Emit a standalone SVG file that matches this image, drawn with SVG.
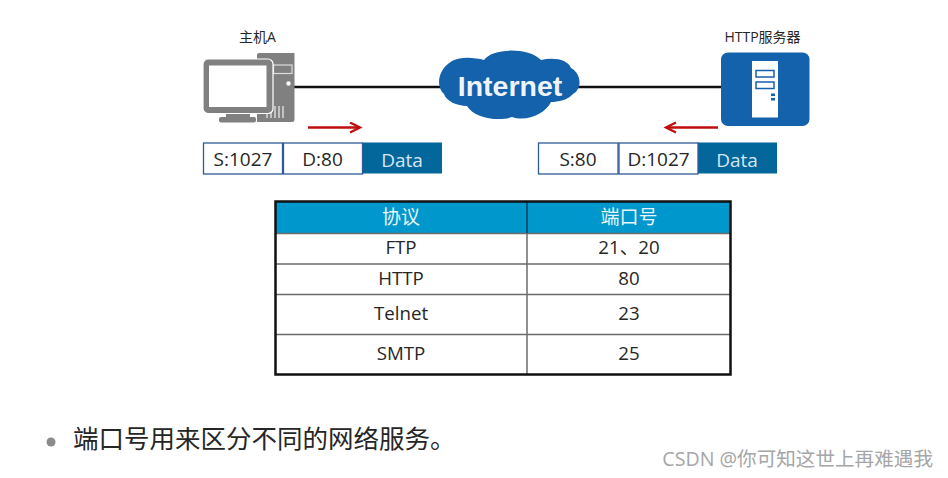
<svg xmlns="http://www.w3.org/2000/svg" width="948" height="478" viewBox="0 0 948 478">
<style>
text{font-family:"Open Sans","Noto Sans CJK SC",sans-serif;text-anchor:middle;fill:#262626}
.lab{font-size:14px}
.pkt{font-size:19px}
.dat{font-size:19px;fill:#d4e6f1}
.box{fill:#fff;stroke:#2f5b94;stroke-width:1.3}
.data{fill:#03679b}
.cell{font-size:18.700px}
.hd{font-size:19px;fill:#e8f6fb}
.grid{stroke:#6b6b6b;stroke-width:1.5;fill:none}
.pc{fill:#808080}
.wire{stroke:#111;stroke-width:2.500;fill:none}
.red{stroke:#c00d0d;stroke-width:2.300;fill:none}
</style>
<defs>
<marker id="ah" markerUnits="userSpaceOnUse" markerWidth="14" markerHeight="14" refX="11" refY="6" orient="auto"><path d="M1 1L11 6L1 11" fill="none" stroke="#c00d0d" stroke-width="2.300"/></marker>
</defs>
<rect width="948" height="478" fill="#fff"/>
<g id="connectors">
<path class="wire" d="M294 87H442"/>
<path class="wire" d="M578 87H722"/>
<path class="red" d="M308 127.500H360" marker-end="url(#ah)"/>
<path class="red" d="M718 127.500H666" marker-end="url(#ah)"/>
</g>
<g id="host-a">
<text class="lab" x="257.500" y="42">主机A</text>
<path class="pc" d="M259 53H294.500V120Q294.500 122 292 122H257V55Q257 53 259 53Z"/>
<rect x="273.500" y="65" width="18.500" height="8.500" fill="#808080" stroke="#ddd" stroke-width="1.200"/>
<circle cx="288.500" cy="83.500" r="2.200" fill="#fff"/>
<path d="M267 118V110M271 118V107M275 118V106M279 118V106M283 118V106" stroke="#e6e6e6" stroke-width="1.300"/>
<rect x="203" y="59" width="70" height="54.500" rx="5" fill="#808080" stroke="#fff" stroke-width="1.200"/>
<rect x="209" y="65.500" width="57.500" height="41.500" fill="#fff"/>
<rect x="226" y="114" width="24" height="3.500" fill="#808080"/>
<rect x="219" y="117" width="37" height="5.500" rx="2" fill="#808080"/>
</g>
<g id="internet">
<path d="M452 61C462 56 475 58 484 60C492 48 528 47 541 60C555 57 568 60 571 68C582 74 582 89 573 94C568 100 558 102 551 102C545 114 527 122 512 117C498 122 474 118 467 106C457 106 446 101 444 94C436 87 437 70 452 61Z" fill="#1462ab"/>
<text x="510" y="96" style="font-family:'Liberation Sans',sans-serif;font-size:28.500px;font-weight:700;fill:#eef4fa">Internet</text>
</g>
<g id="http-server">
<text class="lab" x="762.500" y="42">HTTP服务器</text>
<rect x="721" y="52.500" width="88.500" height="73.500" rx="7" fill="#1462ab"/>
<rect x="752" y="61" width="26" height="56.500" fill="#fff"/>
<rect x="756" y="70.500" width="18" height="6.500" fill="#fff" stroke="#1462ab" stroke-width="1.500"/>
<rect x="756" y="82" width="18" height="6.500" fill="#fff" stroke="#1462ab" stroke-width="1.500"/>
<rect x="771" y="93.500" width="4" height="2.500" fill="#1462ab"/>
<rect x="771" y="98" width="4" height="2.500" fill="#1462ab"/>
</g>
<g id="packet-left">
<rect class="data" x="362" y="142.500" width="80" height="31"/>
<rect class="box" x="203.500" y="143" width="79" height="31"/>
<rect class="box" x="283.500" y="143" width="79" height="31"/>
<text class="pkt" x="243" y="166">S:1027</text>
<text class="pkt" x="322.500" y="166">D:80</text>
<text class="dat" x="402" y="167">Data</text>
</g>
<g id="packet-right">
<rect class="data" x="697" y="142.500" width="80" height="31"/>
<rect class="box" x="538.500" y="143" width="79.500" height="31"/>
<rect class="box" x="619" y="143" width="79" height="31"/>
<text class="pkt" x="578" y="166">S:80</text>
<text class="pkt" x="658.500" y="166">D:1027</text>
<text class="dat" x="737" y="167">Data</text>
</g>
<g id="port-table">
<rect x="276" y="202" width="454" height="31" fill="#0097cc"/>
<path class="grid" d="M276 233.500H730M276 264H730M276 294.500H730M276 334.500H730"/>
<path d="M527 202V233" stroke="#0b3d5c" stroke-width="1.500"/>
<path class="grid" d="M527 233V374"/>
<rect x="275.500" y="201.500" width="455" height="173" fill="none" stroke="#111" stroke-width="2.500"/>
<text class="hd" x="401" y="224">协议</text>
<text class="hd" x="629" y="224">端口号</text>
<text class="cell" x="401" y="254">FTP</text>
<text class="cell" x="629" y="254">21、20</text>
<text class="cell" x="401" y="285">HTTP</text>
<text class="cell" x="629" y="285">80</text>
<text class="cell" x="401" y="320">Telnet</text>
<text class="cell" x="629" y="320">23</text>
<text class="cell" x="401" y="360">SMTP</text>
<text class="cell" x="629" y="360">25</text>
</g>
<g id="caption">
<circle cx="51" cy="442" r="4.500" fill="#8c8c8c"/>
<text x="73" y="448" style="text-anchor:start;font-size:25.500px">端口号用来区分不同的网络服务。</text>
</g>
<g id="watermark">
<text x="933" y="466" style="text-anchor:end;font-size:19.600px;fill:#a6a6a6">CSDN @你可知这世上再难遇我</text>
</g>
</svg>
